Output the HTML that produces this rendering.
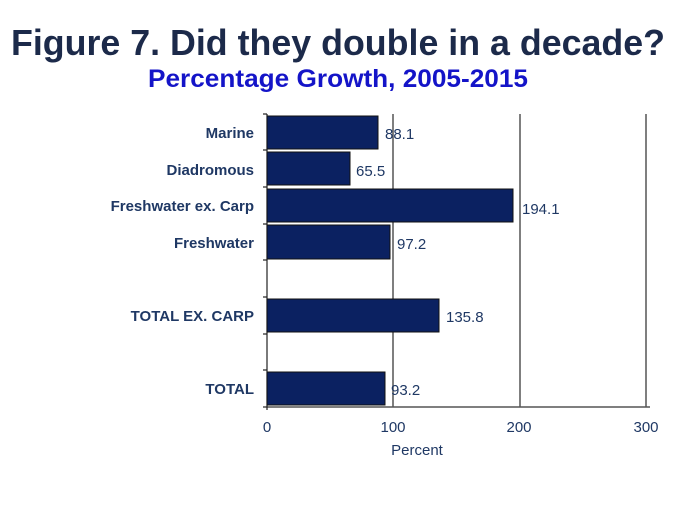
<!DOCTYPE html>
<html><head><meta charset="utf-8"><style>
body{margin:0;background:#fff;width:675px;height:512px;overflow:hidden}
</style></head><body>
<svg width="675" height="512" xmlns="http://www.w3.org/2000/svg" font-family="Liberation Sans, Arial, sans-serif">
<text x="11" y="55" textLength="654" lengthAdjust="spacingAndGlyphs" font-size="36" font-weight="bold" fill="#1c2a4a">Figure 7. Did they double in a decade?</text>
<text x="148" y="87" textLength="380" lengthAdjust="spacingAndGlyphs" font-size="25" font-weight="bold" fill="#1414c8">Percentage Growth, 2005-2015</text>
<g stroke="#555" stroke-width="1.5">
<line x1="393" y1="114" x2="393" y2="407"/>
<line x1="520" y1="114" x2="520" y2="407"/>
<line x1="646" y1="114" x2="646" y2="407"/>
<line x1="267" y1="407" x2="650" y2="407"/>
</g>
<g stroke="#222" stroke-width="1.2">
<line x1="267" y1="114" x2="267" y2="410"/>
<line x1="263" y1="114" x2="267" y2="114"/><line x1="263" y1="150" x2="267" y2="150"/>
<line x1="263" y1="187" x2="267" y2="187"/><line x1="263" y1="224" x2="267" y2="224"/>
<line x1="263" y1="260" x2="267" y2="260"/><line x1="263" y1="297" x2="267" y2="297"/>
<line x1="263" y1="334" x2="267" y2="334"/><line x1="263" y1="370" x2="267" y2="370"/>
<line x1="263" y1="407" x2="267" y2="407"/>
</g>
<g fill="#0b2161" stroke="#111" stroke-width="1">
<rect x="267" y="116" width="111" height="33"/>
<rect x="267" y="152" width="83" height="33"/>
<rect x="267" y="189" width="246" height="33"/>
<rect x="267" y="225" width="123" height="34"/>
<rect x="267" y="299" width="172" height="33"/>
<rect x="267" y="372" width="118" height="33"/>
</g>
<g font-size="15" font-weight="bold" fill="#1f3864" text-anchor="end">
<text x="254" y="138">Marine</text>
<text x="254" y="175">Diadromous</text>
<text x="254" y="211">Freshwater ex. Carp</text>
<text x="254" y="248">Freshwater</text>
<text x="254" y="321">TOTAL EX. CARP</text>
<text x="254" y="394">TOTAL</text>
</g>
<g font-size="15" fill="#1f3864">
<text x="385" y="139">88.1</text>
<text x="356" y="176">65.5</text>
<text x="522" y="214">194.1</text>
<text x="397" y="249">97.2</text>
<text x="446" y="322">135.8</text>
<text x="391" y="395">93.2</text>
</g>
<g font-size="15" fill="#1f3864" text-anchor="middle">
<text x="267" y="432">0</text>
<text x="393" y="432">100</text>
<text x="519" y="432">200</text>
<text x="646" y="432">300</text>
<text x="417" y="455">Percent</text>
</g>
</svg>
</body></html>
